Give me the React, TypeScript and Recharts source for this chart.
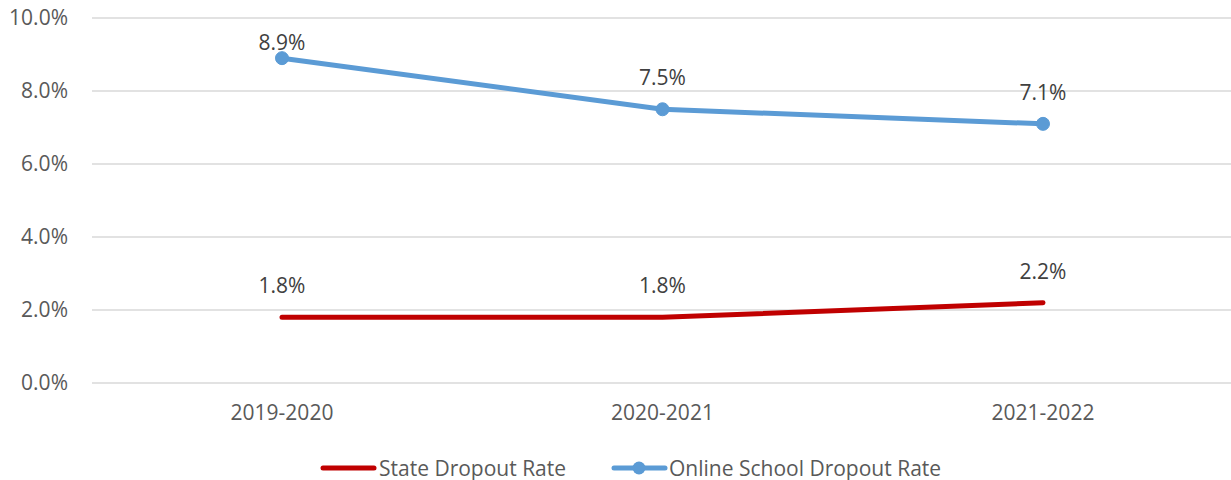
import React from "react";
import { LineChart, Line, XAxis, YAxis, CartesianGrid, Legend, LabelList } from "recharts";

const categories = ["2019-2020", "2020-2021", "2021-2022"];
const stateRate = [1.8, 1.8, 2.2];
const onlineRate = [8.9, 7.5, 7.1];
const yTicks = [0, 2, 4, 6, 8, 10];

const data = categories.map((c, i) => ({ year: c, state: stateRate[i], online: onlineRate[i] }));

const FONT = "'Open Sans', Lato, sans-serif";
const FS = 21;
const RED = "#C00000";
const BLUE = "#5B9BD5";

const makeLabel = (series: string) => (props: any) => {
  const { x, y, value, index } = props;
  let off = 32;
  if (series === "online" && index === 0) off = 16;
  return (
    <text x={x} y={y - off} textAnchor="middle" dominantBaseline="central" fill="#404040" fontSize={FS} fontFamily={FONT}>
      {Number(value).toFixed(1)}%
    </text>
  );
};

const renderLegend = () => (
  <div style={{ position: "relative", height: 30, fontFamily: FONT, fontSize: FS, color: "#595959" }}>
    <svg width={1231} height={30} style={{ position: "absolute", left: 0, top: 0 }}>
      <line x1={323} y1={15} x2={374} y2={15} stroke={RED} strokeWidth={5} strokeLinecap="round" />
      <line x1={614} y1={15} x2={665} y2={15} stroke={BLUE} strokeWidth={5} strokeLinecap="round" />
      <circle cx={639} cy={15} r={6.5} fill={BLUE} />
      <text x={379} y={15} dominantBaseline="central" fill="#595959" fontSize={FS} fontFamily={FONT}>State Dropout Rate</text>
      <text x={669} y={15} dominantBaseline="central" fill="#595959" fontSize={FS} fontFamily={FONT}>Online School Dropout Rate</text>
    </svg>
  </div>
);

export default function App() {
  return (
    <div style={{ position: "absolute", left: 0, top: 0, width: 1231, height: 480, background: "#fff" }}>
      <LineChart width={1231} height={480} data={data} margin={{ top: 18, right: -2, left: 0, bottom: 19 }}>
        <CartesianGrid vertical={false} stroke="#D9D9D9" strokeWidth={1.5} />
        <XAxis
          dataKey="year"
          axisLine={false}
          tickLine={false}
          tickSize={0}
          tickMargin={22}
          height={48}
          padding={{ left: 190, right: 190 }}
          tick={{ fill: "#595959", fontSize: FS, fontFamily: FONT }}
        />
        <YAxis
          domain={[0, 10]}
          ticks={yTicks}
          axisLine={false}
          tickLine={false}
          tickSize={0}
          tickMargin={24}
          width={92}
          tickFormatter={(v: number) => `${v.toFixed(1)}%`}
          tick={{ fill: "#595959", fontSize: FS, fontFamily: FONT }}
        />
        <Legend verticalAlign="bottom" content={renderLegend} wrapperStyle={{ position: "absolute", top: 453, left: 0, width: 1231, height: 30 }} />
        <Line type="linear" dataKey="state" name="State Dropout Rate" stroke={RED} strokeWidth={5} dot={false} strokeLinecap="round" isAnimationActive={false}>
          <LabelList dataKey="state" content={makeLabel("state")} />
        </Line>
        <Line type="linear" dataKey="online" name="Online School Dropout Rate" stroke={BLUE} strokeWidth={5} dot={{ r: 6.5, fill: BLUE, stroke: BLUE, strokeWidth: 1 }} isAnimationActive={false}>
          <LabelList dataKey="online" content={makeLabel("online")} />
        </Line>
      </LineChart>
    </div>
  );
}
